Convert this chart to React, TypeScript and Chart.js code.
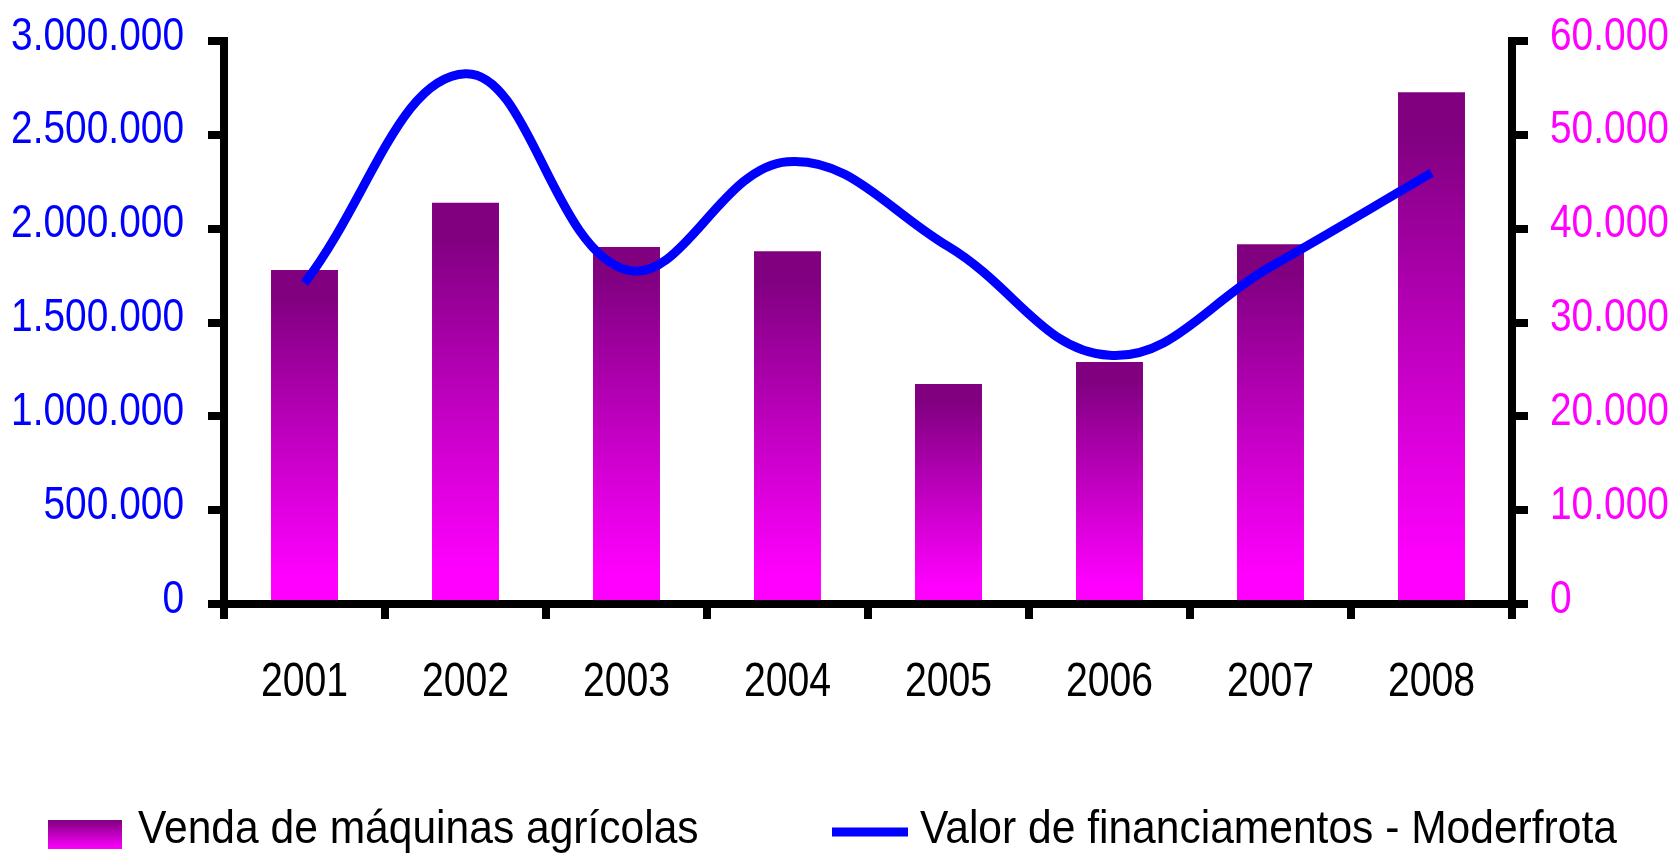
import React, { useEffect, useRef } from 'react';
import { Chart, registerables } from 'chart.js';

Chart.register(...registerables);

const years = ['2001', '2002', '2003', '2004', '2005', '2006', '2007', '2008'];
const machineSales = [35600, 42750, 38050, 37600, 23450, 25800, 38350, 54550];
const financingValues = [1710000, 2826000, 1780000, 2357000, 1904000, 1325000, 1797000, 2297000];
const leftTickLabels = ['0', '500.000', '1.000.000', '1.500.000', '2.000.000', '2.500.000', '3.000.000'];
const rightTickLabels = ['0', '10.000', '20.000', '30.000', '40.000', '50.000', '60.000'];
const salesLabel = 'Venda de máquinas agrícolas';
const financingLabel = 'Valor de financiamentos - Moderfrota';

const FONT = "'Liberation Sans', Arial, sans-serif";
const PURPLE = '#800080';
const MAGENTA = '#FF00FF';
const BLUE = '#0000FF';

// draw text horizontally condensed (reference uses a narrow Arial-like face)
function drawNarrow(
  c: CanvasRenderingContext2D,
  text: string,
  x: number,
  y: number,
  size: number,
  sx: number,
  align: CanvasTextAlign,
  color: string
) {
  c.save();
  c.translate(x, y);
  c.scale(sx, 1);
  c.font = `${size}px ${FONT}`;
  c.fillStyle = color;
  c.textAlign = align;
  c.textBaseline = 'alphabetic';
  c.fillText(text, 0, 0);
  c.restore();
}

const labelsPlugin = {
  id: 'narrowLabels',
  afterDraw(chart: any) {
    const c = chart.ctx as CanvasRenderingContext2D;
    const { x, y, y1 } = chart.scales;
    // left axis labels
    y.ticks.forEach((_t: any, i: number) => {
      const py = y.getPixelForTick(i);
      drawNarrow(c, leftTickLabels[i], 184, py + 8.5, 46, 0.845, 'right', BLUE);
    });
    // right axis labels
    y1.ticks.forEach((_t: any, i: number) => {
      const py = y1.getPixelForTick(i);
      drawNarrow(c, rightTickLabels[i], 1550, py + 8.5, 46, 0.845, 'left', MAGENTA);
    });
    // category labels
    chart.data.labels.forEach((lab: string, i: number) => {
      const px = x.getPixelForValue(i);
      drawNarrow(c, lab, px, 696, 49, 0.8, 'center', '#000');
    });
    // legend
    const ds = chart.data.datasets;
    c.save();
    const g = c.createLinearGradient(0, 820, 0, 849);
    g.addColorStop(0, PURPLE);
    g.addColorStop(1, MAGENTA);
    c.fillStyle = g;
    c.fillRect(48, 820, 74, 29);
    c.strokeStyle = BLUE;
    c.lineWidth = 9;
    c.beginPath();
    c.moveTo(832, 832);
    c.lineTo(908, 832);
    c.stroke();
    c.restore();
    drawNarrow(c, ds[0].label, 138, 843, 46, 0.925, 'left', '#000');
    drawNarrow(c, ds[1].label, 920, 843, 46, 0.925, 'left', '#000');
  },
};

export default function App() {
  const ref = useRef<HTMLCanvasElement | null>(null);

  useEffect(() => {
    if (!ref.current) return;
    const chart = new Chart(ref.current, {
      type: 'bar',
      data: {
        labels: years,
        datasets: [
          {
            type: 'bar',
            label: salesLabel,
            data: machineSales,
            yAxisID: 'y1',
            order: 1,
            categoryPercentage: 1,
            barPercentage: 0.416,
            backgroundColor: (ctx: any) => {
              const chart = ctx.chart;
              const s = chart.scales?.y1;
              if (!s || ctx.raw == null) return PURPLE;
              const top = s.getPixelForValue(ctx.raw);
              const bottom = s.getPixelForValue(0);
              if (!isFinite(top) || !isFinite(bottom) || top === bottom) return PURPLE;
              const g = chart.ctx.createLinearGradient(0, top, 0, bottom);
              g.addColorStop(0, PURPLE);
              g.addColorStop(0.08, PURPLE);
              g.addColorStop(0.92, MAGENTA);
              g.addColorStop(1, MAGENTA);
              return g;
            },
            borderWidth: 0,
          } as any,
          {
            type: 'line',
            label: financingLabel,
            data: financingValues,
            yAxisID: 'y',
            order: 0,
            borderColor: BLUE,
            backgroundColor: BLUE,
            borderWidth: 9,
            pointRadius: 0,
            tension: 0.4,
            fill: false,
          } as any,
        ],
      },
      options: {
        animation: false,
        responsive: false,
        maintainAspectRatio: false,
        layout: { padding: { top: 41, left: 0, right: 0, bottom: 0 } },
        plugins: {
          legend: { display: false },
          tooltip: { enabled: false },
          title: { display: false },
        },
        scales: {
          x: {
            type: 'category',
            offset: true,
            grid: {
              offset: true,
              drawOnChartArea: false,
              drawTicks: true,
              tickLength: 15,
              lineWidth: 8,
              color: '#000',
            },
            border: { display: true, width: 8, color: '#000' },
            ticks: { display: false, autoSkip: false, maxRotation: 0 },
            afterFit: (scale: any) => {
              scale.height = 255;
            },
          },
          y: {
            type: 'linear',
            position: 'left',
            min: 0,
            max: 3000000,
            grid: {
              drawOnChartArea: false,
              drawTicks: true,
              tickLength: 16,
              lineWidth: 8,
              color: '#000',
            },
            border: { display: true, width: 8, color: '#000' },
            ticks: { display: false, stepSize: 500000 },
            afterFit: (scale: any) => {
              scale.width = 224;
            },
          },
          y1: {
            type: 'linear',
            position: 'right',
            min: 0,
            max: 60000,
            grid: {
              drawOnChartArea: false,
              drawTicks: true,
              tickLength: 16,
              lineWidth: 8,
              color: '#000',
            },
            border: { display: true, width: 8, color: '#000' },
            ticks: { display: false, stepSize: 10000 },
            afterFit: (scale: any) => {
              scale.width = 162;
            },
          },
        },
      },
      plugins: [labelsPlugin],
    });
    return () => chart.destroy();
  }, []);

  return (
    <div style={{ position: 'absolute', left: 0, top: 0, width: 1674, height: 859, background: '#fff' }}>
      <canvas ref={ref} width={1674} height={859} style={{ display: 'block', width: 1674, height: 859 }} />
    </div>
  );
}
